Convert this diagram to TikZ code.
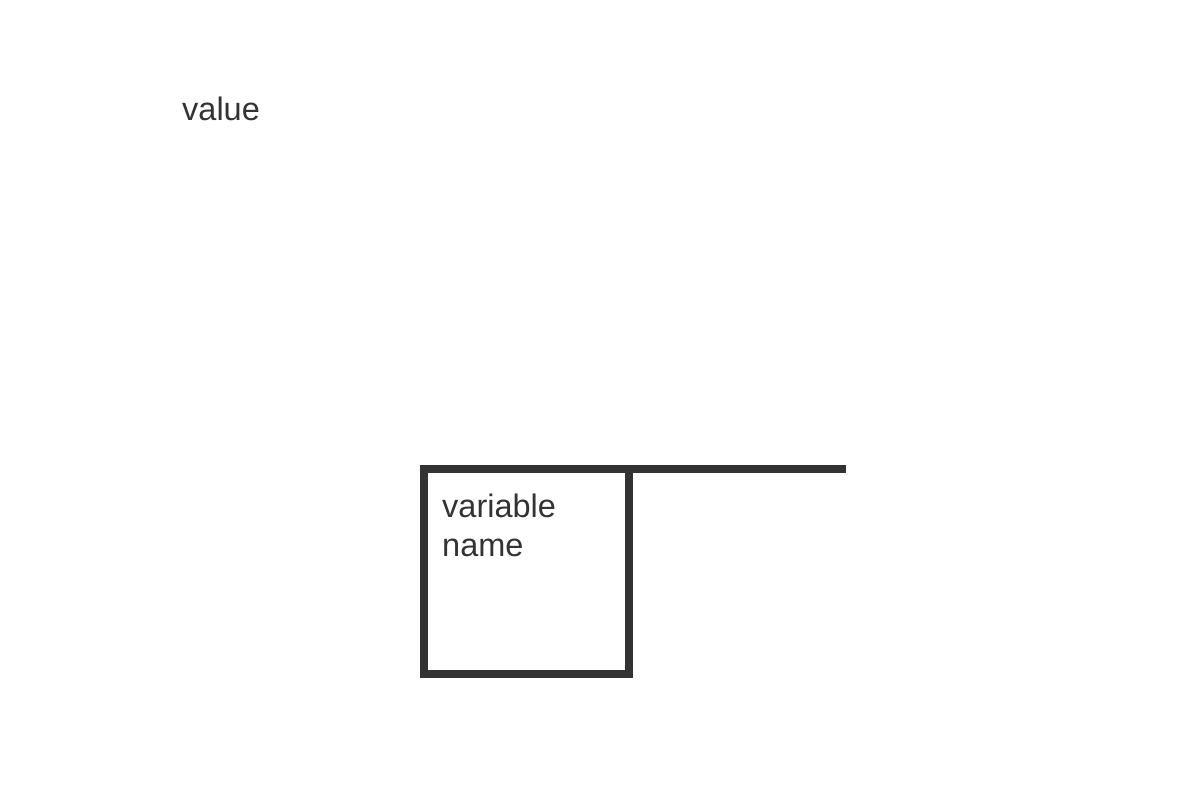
\documentclass[tikz,border=0pt]{standalone}
\usepackage{fontspec}
\setmainfont{Liberation Sans}
\definecolor{ink}{HTML}{333333}
\begin{document}
\begin{tikzpicture}[x=1pt,y=-1pt,
  txt/.style={font=\fontsize{32.5}{38.5}\selectfont, text=ink, inner sep=0pt},
  line/.style={draw=ink, line width=8pt}]
\useasboundingbox (0,0) rectangle (1200,800);
\node[txt, anchor=base west] (value) at (182,120) {value};
\node[line, minimum width=204.5pt, minimum height=204.5pt, inner sep=0pt, outer sep=0pt, anchor=north west] (box) at (424,469) {};
\coordinate (end) at (846,469);
\draw[line] (box.north east) -- (end);
\node[txt, anchor=base west, align=left] (vn) at (442,556) {variable\\name};
\end{tikzpicture}
\end{document}
